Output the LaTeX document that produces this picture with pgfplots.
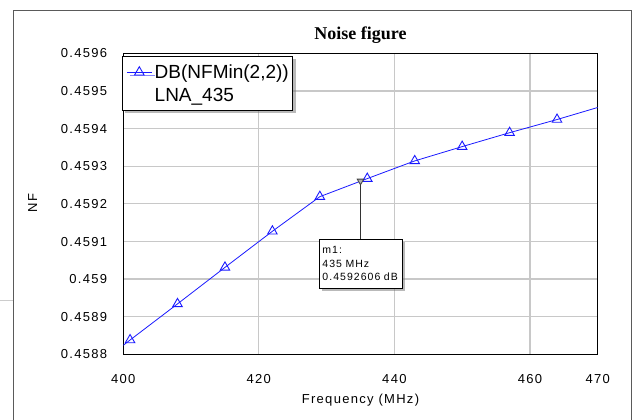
\documentclass[border=0pt]{standalone}
\usepackage{fontspec}
\setmainfont{Liberation Sans}
\newfontfamily\arialsp[LetterSpace=10]{Liberation Sans}
\newfontfamily\timesfont{Liberation Serif}
\usepackage{pgfplots}
\pgfplotsset{compat=1.18}
\usetikzlibrary{shadows}
\definecolor{gridgray}{RGB}{200,200,200}
\definecolor{traceblue}{RGB}{25,25,255}
\definecolor{framegray}{RGB}{90,90,90}

\begin{document}
\begin{tikzpicture}
\path[use as bounding box] (0pt,0pt) rectangle (633pt,-420pt);
\draw[framegray, line width=0.9pt] (13pt,-420pt) -- (13pt,-10pt) -- (631.7pt,-10pt) -- (631.7pt,-420pt);
\draw[gray!40, line width=0.8pt] (0pt,-300pt) -- (13pt,-300pt);
\begin{axis}[
  at={(123.3pt,-354.3pt)}, anchor=south west,
  scale only axis, width=474.4pt, height=301pt,
  xmin=400, xmax=470, ymin=0.4588, ymax=0.4596,
  xtick={400,420,440,460,470}, xticklabels={400,420,440,460,470},
  ytick={0.4588,0.4589,0.459,0.4591,0.4592,0.4593,0.4594,0.4595,0.4596},
  yticklabels={0.4588,0.4589,0.459,0.4591,0.4592,0.4593,0.4594,0.4595,0.4596},
  major tick length=0pt,
  xmajorgrids, ymajorgrids,
  major grid style={gridgray, line width=1.2pt},
  axis line style={black, line width=1.1pt},
  tick label style={font=\arialsp\fontsize{13}{15}\selectfont},
  xticklabel style={anchor=base, inner sep=0pt, yshift=-29.4pt},
  yticklabel style={anchor=base east, inner sep=0pt, xshift=-16pt, yshift=-4.65pt},
  title={Noise figure},
  title style={font=\timesfont\bfseries\fontsize{18}{20}\selectfont, at={(axis description cs:0.5,1.0272)}, anchor=base},
  xlabel={Frequency (MHz)},
  xlabel style={font=\arialsp\fontsize{13}{15}\selectfont, at={(axis description cs:0.5,-0.1641)}, anchor=base},
  ylabel={NF},
  ylabel style={font=\arialsp\fontsize{13}{15}\selectfont, at={(axis description cs:-0.191,0.5027)}, anchor=center},
  legend cell align=left,
  legend image code/.code={%
    \draw[#1,mark=none] (0pt,0pt) -- (25pt,0pt);
    \draw[#1,mark indices={1}] plot coordinates {(12.5pt,0pt)};},
  legend style={at={(axis description cs:-0.0027,0.991)}, anchor=north west,
    draw=black, line width=0.8pt, fill=white,
    font=\fontsize{19}{21}\selectfont,
    drop shadow={shadow xshift=3pt, shadow yshift=-3pt, fill=black!55},
    inner xsep=4pt, inner ysep=5.3pt, row sep=1.4pt, column sep=2.5pt,
    nodes={inner sep=0pt, text height=17pt, text depth=4pt}},
]
\addplot[traceblue, line width=0.8pt, mark=triangle, mark size=5.5pt,
  mark options={solid, fill=white, line width=0.9pt},
  mark indices={2,3,4,5,6,7,8,9,10,11}] coordinates {
  (400,0.458824)
  (401,0.458838)
  (408,0.458934)
  (415,0.459031)
  (422,0.459127)
  (429,0.459219)
  (436,0.459267)
  (443,0.459314)
  (450,0.459352)
  (457,0.459389)
  (464,0.459424)
  (470,0.459456)
};
\addlegendentry{DB(NFMin(2,2))}
\addlegendimage{empty legend}
\addlegendentry{LNA\_435}
\addplot[forget plot, only marks, mark=triangle*, mark size=3.8pt,
  mark options={rotate=180, fill=gray!60, draw=black!75, line width=0.8pt}]
  coordinates {(435,0.4592606)};
\draw[black!80, line width=0.8pt] (axis cs:435,0.4592606) -- (axis cs:435,0.4591056);
\node[draw=black, line width=0.8pt, fill=white,
  drop shadow={shadow xshift=2.5pt, shadow yshift=-2.5pt, fill=black!55},
  anchor=north west, text width=76.7pt, minimum height=48.4pt, align=left,
  inner xsep=3pt, inner ysep=0pt,
  font=\arialsp\fontsize{10.5}{13.5}\selectfont]
  at (axis cs:428.88,0.4591056) {m1:\\435 MHz\\0.4592606 dB};
\end{axis}
\end{tikzpicture}
\end{document}
